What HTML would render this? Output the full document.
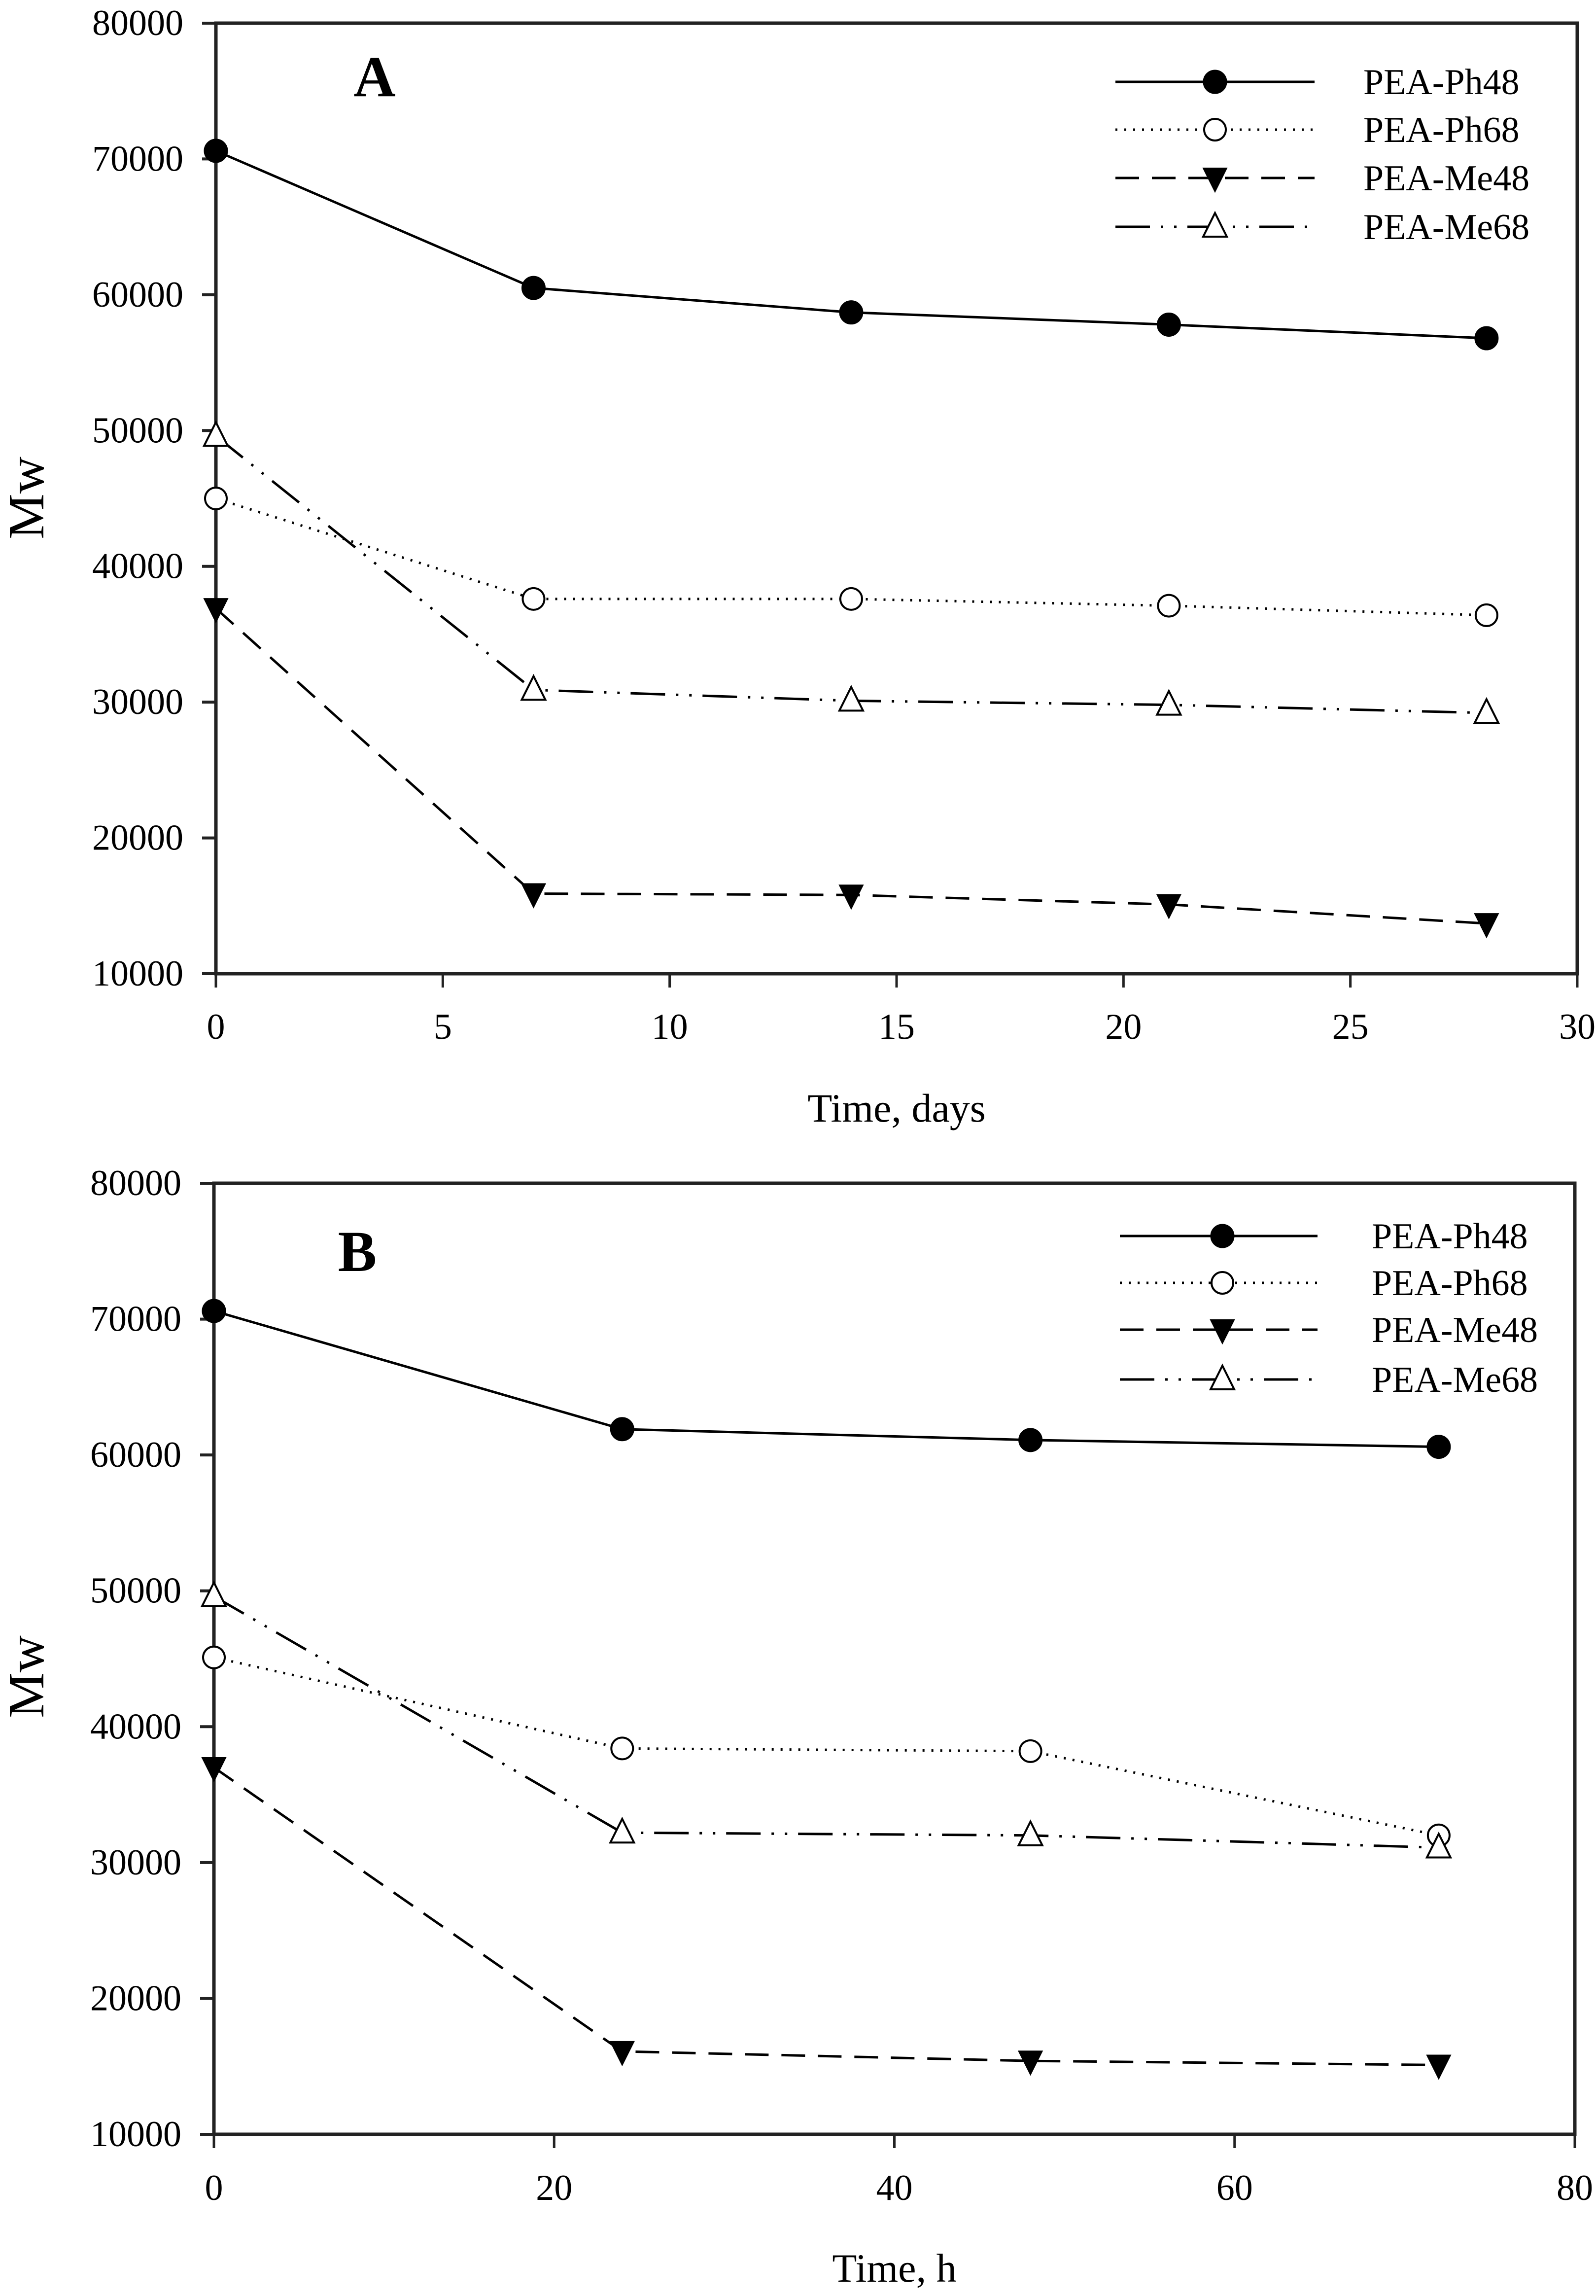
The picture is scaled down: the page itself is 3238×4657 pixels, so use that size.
<!DOCTYPE html>
<html><head><meta charset="utf-8"><style>
html,body{margin:0;padding:0;background:#fff;}
svg{display:block;}
text{font-family:"Liberation Serif",serif;fill:#000;}
</style></head>
<body>
<svg id="chart" width="3238" height="4657" viewBox="0 0 3238 4657" xmlns="http://www.w3.org/2000/svg">
<rect x="0" y="0" width="3238" height="4657" fill="#fff"/>
</svg>
<script>
const seriesNames = ["PEA-Ph48","PEA-Ph68","PEA-Me48","PEA-Me68"];
const yTicks = [10000,20000,30000,40000,50000,60000,70000,80000];
const xTicksA = [0,5,10,15,20,25,30];
const xTicksB = [0,20,40,60,80];
const daysA = [0,7,14,21,28];
const ph48A = [70600,60500,58700,57800,56800];
const ph68A = [45000,37600,37600,37100,36400];
const me48A = [36900,15900,15800,15100,13700];
const me68A = [49600,30900,30100,29800,29200];
const hoursB = [0,24,48,72];
const ph48B = [70600,61900,61100,60600];
const ph68B = [45100,38400,38200,32000];
const me48B = [37000,16100,15400,15100];
const me68B = [49600,32200,32000,31100];

const NS = "http://www.w3.org/2000/svg";
const svg = document.getElementById('chart');
function mk(tag, attrs, parent){
  const e = document.createElementNS(NS, tag);
  for (const k in attrs) e.setAttribute(k, attrs[k]);
  (parent||svg).appendChild(e);
  return e;
}
const styles = [
  {dash:null, marker:'fcircle'},
  {dash:'4 14', marker:'ocircle'},
  {dash:'48 26', marker:'dtri'},
  {dash:'70 22 5 22 5 22', marker:'utri'}
];
function marker(g, type, x, y){
  let e;
  if (type==='fcircle'){ e = mk('circle',{cx:x,cy:y,r:23,fill:'#000',stroke:'#000','stroke-width':3},g); }
  else if (type==='ocircle'){ e = mk('circle',{cx:x,cy:y,r:22,fill:'#fff',stroke:'#000','stroke-width':4},g); }
  else if (type==='dtri'){ e = mk('polygon',{points:`${x-24},${y-20} ${x+24},${y-20} ${x},${y+28}`,fill:'#000',stroke:'#000','stroke-width':2},g); }
  else { e = mk('polygon',{points:`${x-24},${y+20} ${x+24},${y+20} ${x},${y-28}`,fill:'#fff',stroke:'#000','stroke-width':4},g); }
  
  
}
function panel(opt){
  const {L,R,T,B,xmax,xTicks,xs,series,label,labelX,labelY,xTitle,xTitleY,xLabelY,legX,legText,legRows,mwY,pname} = opt;
  const g = mk('g',{});
  
  
  const sx = v => L + (v/xmax)*(R-L);
  const sy = v => B - (v-10000)/70000*(B-T);
  const frame = mk('rect',{x:L,y:T,width:R-L,height:B-T,fill:'none',stroke:'#222','stroke-width':7},g);
  
  
  yTicks.forEach(v=>{
    const y = sy(v);
    const t = mk('line',{x1:L-28,y1:y,x2:L,y2:y,stroke:'#222','stroke-width':6},g);
    
    
    const tx = mk('text',{x:L-66,y:y+24,'font-size':74,'text-anchor':'end'},g);
    tx.textContent = v;
    
    
  });
  xTicks.forEach(v=>{
    const x = sx(v);
    const t = mk('line',{x1:x,y1:B,x2:x,y2:B+28,stroke:'#222','stroke-width':5},g);
    
    
    const tx = mk('text',{x:x,y:xLabelY,'font-size':74,'text-anchor':'middle'},g);
    tx.textContent = v;
    
    
  });
  series.forEach((vals,i)=>{
    const st = styles[i];
    const pts = vals.map((v,j)=>sx(xs[j])+','+sy(v)).join(' ');
    const pl = mk('polyline',{points:pts,fill:'none',stroke:'#000','stroke-width':5});
    if (st.dash) pl.setAttribute('stroke-dasharray', st.dash);
    g.appendChild(pl);
    
    
    vals.forEach((v,j)=>marker(g, st.marker, sx(xs[j]), sy(v)));
  });
  // legend
  legRows.forEach((y,i)=>{
    const st = styles[i];
    const ln = mk('line',{x1:legX[0],y1:y,x2:legX[2],y2:y,stroke:'#000','stroke-width':5},g);
    if (st.dash) ln.setAttribute('stroke-dasharray', st.dash);
    
    
    marker(g, st.marker, legX[1], y);
    const tx = mk('text',{x:legText,y:y+25,'font-size':74},g);
    tx.textContent = seriesNames[i];
    
    
  });
  const pl = mk('text',{x:labelX,y:labelY,'font-size':118,'font-weight':'bold','text-anchor':'middle'},g);
  pl.textContent = label;
  
  
  const xt = mk('text',{x:(L+R)/2,y:xTitleY,'font-size':82,'text-anchor':'middle'},g);
  xt.textContent = xTitle;
  
  
  const yt = mk('text',{x:0,y:0,'font-size':104,'text-anchor':'middle',transform:`translate(88,${mwY}) rotate(-90)`},g);
  yt.textContent = 'Mw';
  
  
}
panel({pname:'panel-a',L:438,R:3200,T:47,B:1975,xmax:30,xTicks:xTicksA,xs:daysA,
  series:[ph48A,ph68A,me48A,me68A],label:'A',labelX:760,labelY:195,
  xTitle:'Time, days',xTitleY:2275,xLabelY:2107,legX:[2263,2465,2667],legText:2766,
  legRows:[166,263,361,460],mwY:1010});
panel({pname:'panel-b',L:434,R:3195,T:2400,B:4329,xmax:80,xTicks:xTicksB,xs:hoursB,
  series:[ph48B,ph68B,me48B,me68B],label:'B',labelX:725,labelY:2578,
  xTitle:'Time, h',xTitleY:4628,xLabelY:4462,legX:[2272,2480,2673],legText:2783,
  legRows:[2507,2602,2697,2798],mwY:3401});
</script>
</body></html>
